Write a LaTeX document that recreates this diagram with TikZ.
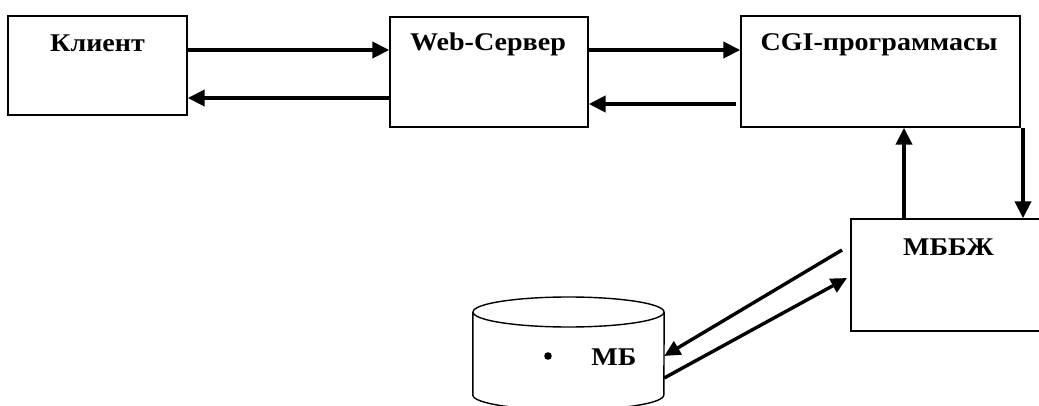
\documentclass[tikz,border=0pt]{standalone}
\usepackage{fontspec}
\setmainfont{Liberation Serif}[FakeStretch=1.1]
\usetikzlibrary{arrows.meta}

\tikzset{
  box/.style={draw, line width=1.4pt, rectangle, inner sep=0pt},
  lbl/.style={anchor=base, inner sep=0pt, font=\fontsize{25.5}{30}\selectfont\bfseries},
  flow/.style={line width=4pt, -{Triangle[length=17pt,width=16pt]}},
  slant/.style={line width=3.4pt, -{Triangle[length=16pt,width=15pt]}}
}

\begin{document}
\begin{tikzpicture}[x=1pt,y=-1pt]
\useasboundingbox (0,0) rectangle (1039,406);

% blocks
\node[box, minimum width=179pt, minimum height=99pt]  (client) at (97.5,65.5) {};
\node[box, minimum width=198pt, minimum height=110pt] (web)    at (489,72) {};
\node[box, minimum width=279pt, minimum height=111pt] (cgi)    at (880.5,71.5) {};
\node[box, minimum width=195pt, minimum height=112pt] (dbms)   at (948.5,275) {};

% block titles
\node[lbl] (clientT) at (97.5,52)  {Клиент};
\node[lbl] (webT)    at (488,51)   {Web-Сервер};
\node[lbl] (cgiT)    at (879,51)   {CGI-программасы};
\node[lbl] (dbmsT)   at (948.5,255) {МББЖ};

% database cylinder
\node[minimum width=191pt, minimum height=113pt, inner sep=0pt] (db) at (568.5,353.5) {};
\draw[line width=1.4pt] (db.north west |- 0,312) -- (db.south west |- 0,395)
  arc[start angle=180, end angle=0, x radius=95.5, y radius=15]
  -- (db.north east |- 0,312);
\draw[line width=1.4pt] (568.5,312) ellipse[x radius=95.5, y radius=15];
\fill (548,356) circle[radius=3.8pt];
\node[lbl] (dbT) at (614,365) {МБ};

% connector rows and columns
\coordinate (rowA) at (0,50);
\coordinate (rowB) at (0,98);
\coordinate (rowC) at (0,104);
\coordinate (colU) at (904,0);
\coordinate (colD) at (1023,0);
\coordinate (dbmsOut) at (842,250);
\coordinate (dbmsIn)  at (847,278);
\coordinate (rowDbIn)  at (0,356);
\coordinate (rowDbOut) at (0,378);

% request / response flows
\draw[flow] (client.east |- rowA) -- (web.west |- rowA);
\draw[flow] (web.west |- rowB) -- (client.east |- rowB);
\draw[flow] (web.east |- rowA) -- (cgi.west |- rowA);
\draw[flow] ([xshift=-4pt]cgi.west |- rowC) -- (web.east |- rowC);
\draw[flow] (dbms.north -| colU) -- (cgi.south -| colU);
\draw[flow] (cgi.south -| colD) -- (dbms.north -| colD);

% database exchange
\draw[slant] (dbmsOut) -- (db.east |- rowDbIn);
\draw[slant] (db.east |- rowDbOut) -- (dbmsIn);
\end{tikzpicture}
\end{document}
